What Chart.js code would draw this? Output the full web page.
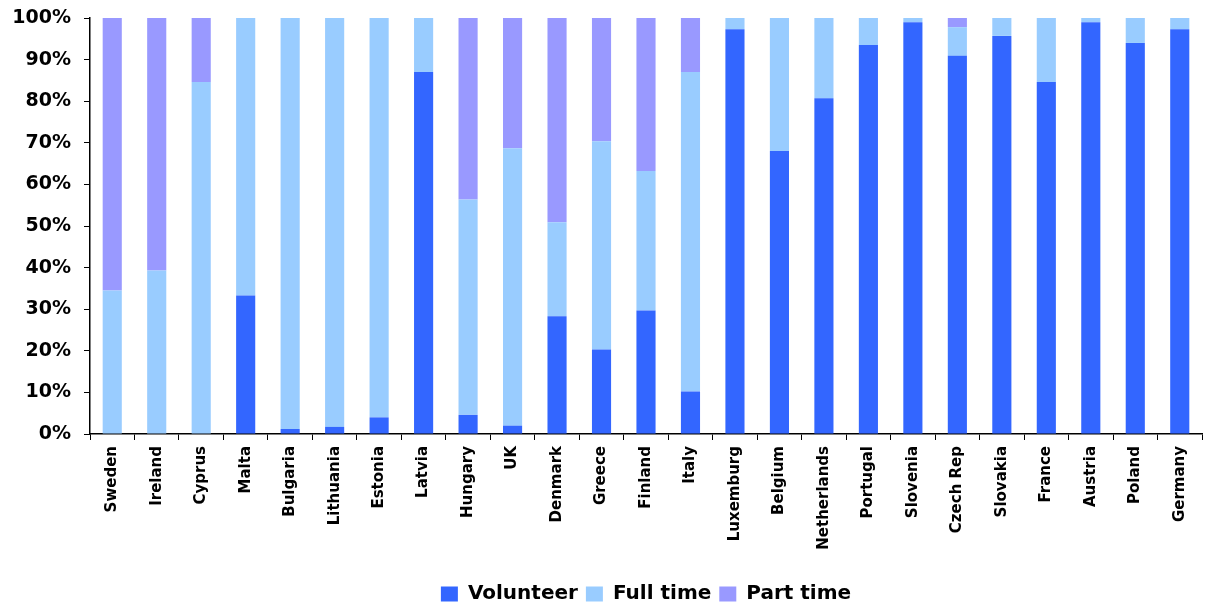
<!DOCTYPE html>
<html lang="en">
  <head>
    <meta charset="UTF-8">
    <title>Volunteer / Full time / Part time by country</title>
    <script src="https://cdn.jsdelivr.net/npm/chart.js@4.4.0/dist/chart.umd.min.js"></script>
    <style>
      html, body { margin: 0; padding: 0; background: #fff; }
    </style>
  </head>
  <body>
    <canvas id="chart" width="1209" height="603"></canvas>
    <script>
    const countries = ['Sweden', 'Ireland', 'Cyprus', 'Malta', 'Bulgaria', 'Lithuania', 'Estonia', 'Latvia',
      'Hungary', 'UK', 'Denmark', 'Greece', 'Finland', 'Italy', 'Luxemburg', 'Belgium', 'Netherlands',
      'Portugal', 'Slovenia', 'Czech Rep', 'Slovakia', 'France', 'Austria', 'Poland', 'Germany'];

    const volunteer = [0, 0, 0, 33.3, 1.2, 1.7, 4.0, 87.0, 4.6, 2.0, 28.3, 20.3, 29.7, 10.2,
      97.3, 68.0, 80.7, 93.5, 99.0, 90.9, 95.7, 84.6, 99.0, 94.0, 97.3];
    const fullTime = [34.5, 39.3, 84.6, 66.7, 98.8, 98.3, 96.0, 13.0, 51.8, 66.7, 22.6, 50.1, 33.5, 76.8,
      2.7, 32.0, 19.3, 6.5, 1.0, 6.9, 4.3, 15.4, 1.0, 6.0, 2.7];
    const partTime = [65.5, 60.7, 15.4, 0, 0, 0, 0, 0, 43.6, 31.3, 49.1, 29.6, 36.8, 13.0,
      0, 0, 0, 0, 0, 2.2, 0, 0, 0, 0, 0];

    const yTicks = [0, 10, 20, 30, 40, 50, 60, 70, 80, 90, 100];

    const font = 'DejaVu Sans';

    // zero shares are left out so no hairline is drawn for them
    const noZero = arr => arr.map(v => (v === 0 ? null : v));

    // centre the legend under the plot area, like the original
    const legendUnderPlot = {
      id: 'legendUnderPlot',
      afterLayout(chart) {
        chart.legend.left = chart.chartArea.left;
      }
    };

    var ctx = document.getElementById('chart').getContext('2d');
    var myChart = new Chart(ctx, {
      type: 'bar',
      data: {
        labels: countries,
        datasets: [
          { label: 'Volunteer', data: noZero(volunteer), backgroundColor: '#3366FF' },
          { label: 'Full time', data: noZero(fullTime), backgroundColor: '#99CCFF' },
          { label: 'Part time', data: noZero(partTime), backgroundColor: '#9999FF' }
        ]
      },
      plugins: [legendUnderPlot],
      options: {
        responsive: false,
        animation: false,
        barPercentage: 0.43,
        categoryPercentage: 1,
        layout: { padding: { top: 18, right: 7, left: 0, bottom: -11 } },
        plugins: {
          tooltip: { enabled: false },
          legend: {
            position: 'bottom',
            labels: {
              boxWidth: 17,
              boxHeight: 15,
              padding: 8,
              color: '#000',
              font: { family: font, size: 20, weight: 'bold' }
            }
          }
        },
        scales: {
          x: {
            stacked: true,
            grid: { drawOnChartArea: false, color: '#000', tickLength: 6, offset: true },
            border: { color: '#000', width: 1.5 },
            ticks: {
              color: '#000',
              minRotation: 90,
              maxRotation: 90,
              autoSkip: false,
              padding: 6,
              font: { family: font, size: 15, weight: 'bold' }
            },
            afterFit: function(scale) { scale.height = 142; }
          },
          y: {
            stacked: true,
            min: 0,
            max: 100,
            afterBuildTicks: function(scale) {
              scale.ticks = yTicks.map(v => ({ value: v }));
            },
            grid: { drawOnChartArea: false, color: '#000', tickLength: 6 },
            border: { color: '#000', width: 1.5 },
            ticks: {
              color: '#000',
              padding: 13,
              font: { family: font, size: 19, weight: 'bold' },
              callback: function(value) { return value + '%'; }
            },
            afterFit: function(scale) {
              scale.width = 90;
              scale.paddingTop = 0;
              scale.paddingBottom = 0;
            }
          }
        }
      }
    });
    </script>
  </body>
</html>
